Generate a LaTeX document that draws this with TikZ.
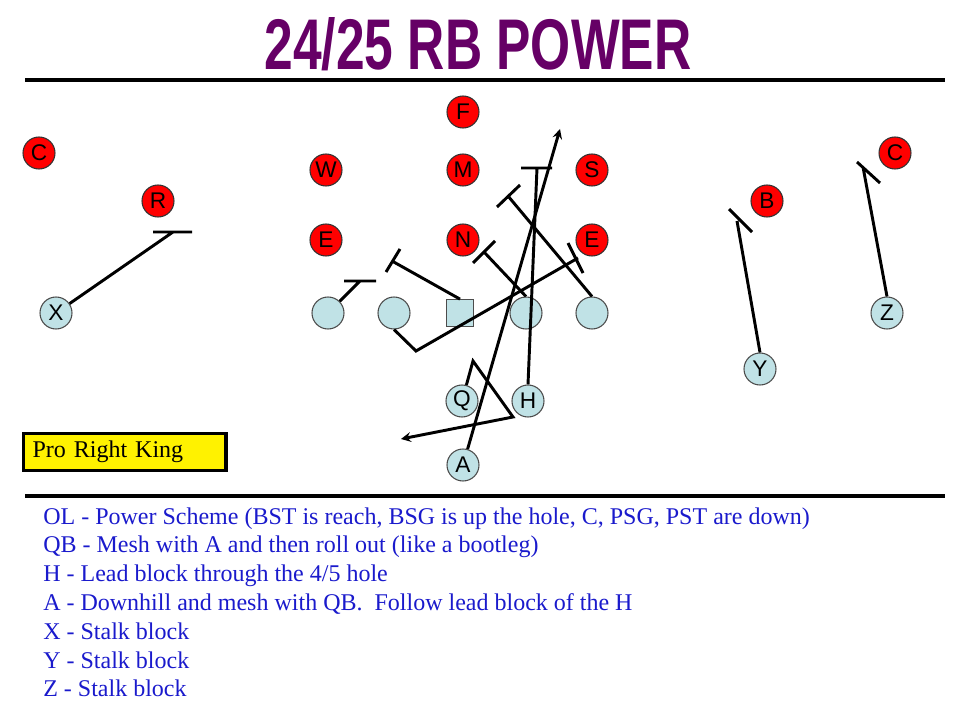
\documentclass[tikz,border=0pt]{standalone}
\usepackage{fontspec}
\usepackage{graphicx}
\setmainfont{Liberation Serif}
\newfontfamily\arialfont{Liberation Sans}
\usetikzlibrary{positioning, arrows}
\definecolor{defred}{RGB}{255,0,0}
\definecolor{offblue}{RGB}{192,226,230}
\definecolor{titlepurple}{RGB}{102,0,102}
\definecolor{noteblue}{RGB}{26,26,204}
\tikzset{
	>=stealth, % arrow heads of the runs
	defender/.style={circle, draw=black!80, line width=0.8pt, fill=defred, minimum size=24pt, inner sep=0pt, font=\arialfont\fontsize{17}{17}\selectfont},
	offense/.style={circle, draw=black!70, line width=0.8pt, fill=offblue, minimum size=24pt, inner sep=0pt, font=\arialfont\fontsize{17}{17}\selectfont},
	snapper/.style={rectangle, draw=black!70, line width=0.8pt, fill=offblue, minimum size=20pt, inner sep=0pt},
	route/.style={line width=2.2pt},
	run/.style={route, ->},
	note/.style={anchor=base west, inner sep=0pt, text=noteblue, font=\fontsize{18}{21.6}\selectfont},
}
\begin{document}
\begin{tikzpicture}[x=0.75pt, y=-0.75pt, node distance=49.5pt]
	\useasboundingbox (0,0) rectangle (960,720);
	% title
	\node[anchor=base, text=titlepurple] (title) at (478,70) {\resizebox{320pt}{39pt}{\arialfont\bfseries 24/25 RB POWER}};
	\draw[line width=3pt] (25,80) -- (945,80);
	\draw[line width=3pt] (25,496) -- (945,496);
	% defense
	\node[defender] (f) at (463,112) {F};
	\node[defender] (cl) at (39,153) {C};
	\node[defender] (cr) at (895,153) {C};
	\node[defender] (w) at (326,170) {W};
	\node[defender] (m) at (463,170) {M};
	\node[defender] (s) at (592,170) {S};
	\node[defender] (r) at (158,201) {R};
	\node[defender] (b) at (767,201) {B};
	\node[defender] (el) at (326,240) {E};
	\node[defender] (n) at (463,240) {N};
	\node[defender] (er) at (592,240) {E};
	% offense
	\node[offense] (lt) at (328,313) {};
	\node[offense, right of=lt] (lg) {};
	\node[snapper, right of=lg] (ctr) {};
	\node[offense, right of=ctr] (rg) {};
	\node[offense, right of=rg] (rt) {};
	\node[offense] (x) at (56,313) {X};
	\node[offense] (z) at (887,313) {Z};
	\node[offense] (y) at (760,369) {Y};
	\node[offense] (q) at (462,401) {Q};
	\node[offense] (h) at (528,401) {H};
	\node[offense] (a) at (463,465) {A};
	% route ends
	\coordinate (xe) at (173,232);
	\coordinate (lte) at (360,281);
	\coordinate (lgk) at (416,351);
	\coordinate (lge) at (578,258);
	\coordinate (ctre) at (392,261);
	\coordinate (rge) at (484,252);
	\coordinate (rte) at (508,196);
	\coordinate (he) at (537,168);
	\coordinate (ye) at (737,221);
	\coordinate (ze) at (863,167);
	\coordinate (qk1) at (473,361);
	\coordinate (qk2) at (513,417);
	\coordinate (qe) at (401,439);
	\coordinate (ae) at (560,129);
	% blocks
	\draw[route] (x) -- (xe) ++(-20,0) -- ++(39,0);
	\draw[route] (lt) -- (lte) ++(-16,0) -- ++(32,0);
	\draw[route] (lg.south) -- (lgk) -- (lge) ++(-10,-15) -- ++(15,30);
	\draw[route] (ctr.north) -- (ctre) ++(8,-12) -- ++(-14,23);
	\draw[route] (rg.north) -- (rge) ++(11,-11) -- ++(-22,22);
	\draw[route] (rt.north) -- (rte) ++(12,-11) -- ++(-23,22);
	\draw[route] (h.north) -- (he) ++(-16,0) -- ++(31,0);
	\draw[route] (y.north) -- (ye) ++(-8,-12) -- ++(23,23);
	\draw[route] (z.north) -- (ze) ++(-6,-5) -- ++(23,21);
	% runs
	\draw[run] (a) -- (ae);
	\draw[run] (q) -- (qk1) -- (qk2) -- (qe);
	% formation
	\node[draw, line width=2.5pt, fill=yellow, minimum height=28pt, inner xsep=7pt, text width=138pt, align=left, font=\fontsize{18}{18}\selectfont] (formation) at (124.5,452) {Pro Right King};
	% coaching points
	\foreach \point [count=\i from 0] in {
		{OL - Power Scheme (BST is reach, BSG is up the hole, C, PSG, PST are down)},
		{QB - Mesh with A and then roll out (like a bootleg)},
		{H - Lead block through the 4/5 hole},
		{A - Downhill and mesh with QB.\ \ Follow lead block of the H},
		{X - Stalk block},
		{Y - Stalk block},
		{Z - Stalk block}}
		\node[note] (point\i) at (43,524+28.8*\i) {\point};
\end{tikzpicture}
\end{document}
